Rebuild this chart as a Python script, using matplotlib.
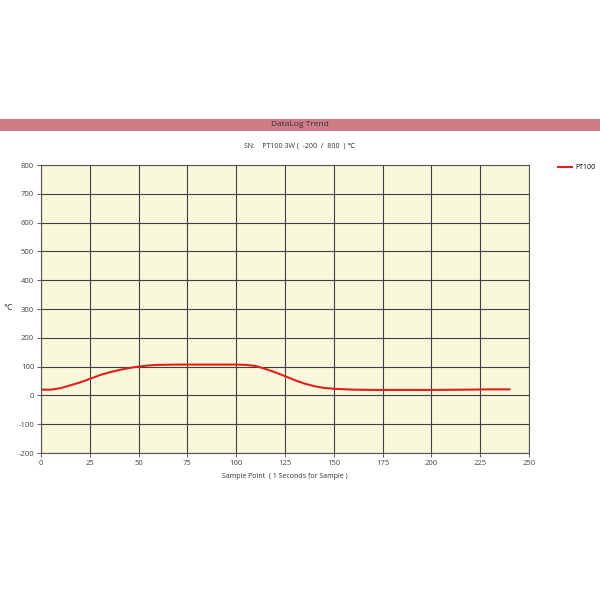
import matplotlib.pyplot as plt
from matplotlib.patches import Rectangle

# sample point (seconds) and PT100 reading (degC)
sample_x = [0, 5, 10, 15, 20, 25, 30, 35, 40, 45, 50, 55, 60, 70, 80, 90, 100,
            105, 110, 115, 120, 125, 130, 135, 140, 145, 150, 160, 170, 180,
            200, 220, 230, 240]
temp_y = [20, 20, 25, 35, 45, 57, 70, 80, 88, 95, 100, 104, 106, 107, 107, 107, 107,
          106, 102, 92, 80, 67, 53, 41, 32, 26, 23, 20, 19, 19,
          19, 20, 21, 21]

x_ticks = list(range(0, 251, 25))
y_ticks = list(range(-200, 801, 100))

plt.rcParams['font.family'] = ['Open Sans', 'DejaVu Sans']
plt.rcParams['axes.unicode_minus'] = False

fig = plt.figure(figsize=(6, 6), dpi=100)
fig.patch.set_facecolor('white')

# title band
fig.patches.append(Rectangle((0, 1 - 131 / 600), 1, 12 / 600, transform=fig.transFigure,
                             facecolor='#cf7c86', edgecolor='none'))
fig.text(0.5, 1 - 125 / 600, 'DataLog Trend', ha='center', va='center', fontsize=6, color='#333333')
fig.text(0.5, 1 - 146 / 600, 'SN:    PT100 3W (  -200  /  800  ) \u2103', ha='center', va='center',
         fontsize=5, color='#333333')

ax = fig.add_axes([41 / 600, 1 - 453 / 600, 488 / 600, 288 / 600])
ax.set_facecolor('#faf8dc')
line, = ax.plot(sample_x, temp_y, color='#e0201c', linewidth=1.5, label='PT100')
ax.set_xlim(0, 250)
ax.set_ylim(-200, 800)
ax.set_xticks(x_ticks)
ax.set_yticks(y_ticks)
ax.grid(True, color='#404040', linewidth=0.8)
ax.set_axisbelow(True)
ax.tick_params(labelsize=5.5, colors='#444444', length=3, width=0.6, pad=2)
for s in ax.spines.values():
    s.set_color('#555555')
    s.set_linewidth(0.8)

fig.text(8 / 600, 1 - 309 / 600, '\u2103', ha='center', va='center', fontsize=5.5, color='#333333')
fig.text(285 / 600, 1 - 476 / 600, 'Sample Point  ( 1 Seconds for Sample )', ha='center', va='center',
         fontsize=5, color='#333333')

# legend
fig.legend(handles=[line], loc='upper left', bbox_to_anchor=(552 / 600, 1 - 158 / 600),
           frameon=False, fontsize=5, handlelength=2.0, handletextpad=0.5)

fig.savefig('out.png', dpi=100)
